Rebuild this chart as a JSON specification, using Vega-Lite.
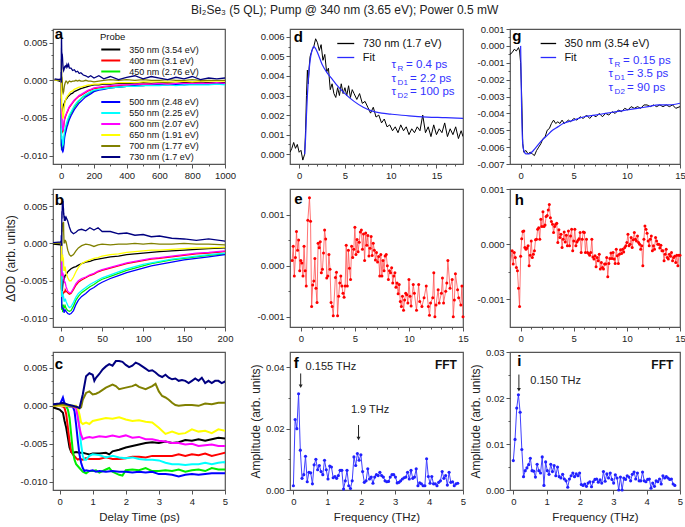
{
"$schema":"https://vega.github.io/schema/vega-lite/v6.json",
"padding":{"left":3,"right":4,"top":4,"bottom":4},
"background":"white",
"title":{"text":"Bi₂Se₃ (5 QL); Pump @ 340 nm (3.65 eV); Power 0.5 mW","fontSize":12,"fontWeight":"normal","color":"#222","anchor":"middle","frame":"bounds","offset":6},
"config":{
 "font":"Liberation Sans",
 "locale":{"number":{"decimal":".","thousands":",","grouping":[3],"currency":["$",""],"minus":"-"}},
 "view":{"stroke":"#555","strokeWidth":1.2},
 "axis":{"grid":false,"domain":false,"tickColor":"#555","tickSize":4,"tickWidth":1,"labelFontSize":9.5,"labelColor":"#222","labelPadding":2,"labelFlush":false,"labelOverlap":false,"titleFontSize":11.5,"titleFontWeight":"normal","titleColor":"#222"},
 "axisY":{"titlePadding":3},
 "axisX":{"titlePadding":6},
 "legend":{"symbolType":"M-2,0H2","labelColor":"#111","titleColor":"#111","titleFontWeight":"normal","padding":0}
},
"datasets":{
"kin":[
{"t":-40,"s":"350","v":0.0001},{"t":-10,"s":"350","v":-0.0001},{"t":-0.2,"s":"350","v":-0.0002},{"t":0,"s":"350","v":-0.0005},{"t":0.1,"s":"350","v":-0.0009},{"t":0.15,"s":"350","v":-0.002},{"t":0.2,"s":"350","v":-0.0029},{"t":0.25,"s":"350","v":-0.0042},{"t":0.3,"s":"350","v":-0.0055},{"t":0.35,"s":"350","v":-0.0061},{"t":0.4,"s":"350","v":-0.0062},{"t":0.5,"s":"350","v":-0.0061},{"t":0.6,"s":"350","v":-0.0062},{"t":0.7,"s":"350","v":-0.0062},{"t":0.8,"s":"350","v":-0.0063},{"t":0.9,"s":"350","v":-0.0064},{"t":1,"s":"350","v":-0.0063},{"t":1.2,"s":"350","v":-0.0063},{"t":1.4,"s":"350","v":-0.0062},{"t":1.5,"s":"350","v":-0.0064},{"t":1.6,"s":"350","v":-0.006},{"t":1.8,"s":"350","v":-0.0058},{"t":2,"s":"350","v":-0.0055},{"t":2.2,"s":"350","v":-0.0053},{"t":2.4,"s":"350","v":-0.0051},{"t":2.6,"s":"350","v":-0.0049},{"t":2.8,"s":"350","v":-0.0048},{"t":3,"s":"350","v":-0.0049},{"t":3.2,"s":"350","v":-0.0047},{"t":3.4,"s":"350","v":-0.0049},{"t":3.6,"s":"350","v":-0.0048},{"t":3.8,"s":"350","v":-0.0045},{"t":4,"s":"350","v":-0.0046},{"t":4.2,"s":"350","v":-0.0044},{"t":4.4,"s":"350","v":-0.0046},{"t":4.6,"s":"350","v":-0.0044},{"t":4.8,"s":"350","v":-0.0042},{"t":5,"s":"350","v":-0.0043},
{"t":6,"s":"350","v":-0.0042},{"t":8,"s":"350","v":-0.0038},{"t":10,"s":"350","v":-0.0036},{"t":12,"s":"350","v":-0.0034},{"t":15,"s":"350","v":-0.0032},{"t":18,"s":"350","v":-0.0031},{"t":21,"s":"350","v":-0.0029},{"t":25,"s":"350","v":-0.0027},{"t":30,"s":"350","v":-0.0025},{"t":35,"s":"350","v":-0.0024},{"t":40,"s":"350","v":-0.0022},{"t":45,"s":"350","v":-0.0021},{"t":50,"s":"350","v":-0.002},{"t":60,"s":"350","v":-0.0018},{"t":70,"s":"350","v":-0.0017},{"t":80,"s":"350","v":-0.0015},{"t":90,"s":"350","v":-0.0014},{"t":100,"s":"350","v":-0.0013},{"t":110,"s":"350","v":-0.0012},{"t":120,"s":"350","v":-0.0011},{"t":135,"s":"350","v":-0.001},{"t":150,"s":"350","v":-0.0009},{"t":165,"s":"350","v":-0.0008},{"t":180,"s":"350","v":-0.0007},{"t":200,"s":"350","v":-0.0006},{"t":230,"s":"350","v":-0.0006},{"t":260,"s":"350","v":-0.0005},{"t":300,"s":"350","v":-0.0005},{"t":350,"s":"350","v":-0.0004},{"t":400,"s":"350","v":-0.0004},{"t":450,"s":"350","v":-0.0004},{"t":500,"s":"350","v":-0.0003},{"t":550,"s":"350","v":-0.0004},{"t":600,"s":"350","v":-0.0003},{"t":650,"s":"350","v":-0.0003},{"t":700,"s":"350","v":-0.0004},{"t":750,"s":"350","v":-0.0003},{"t":800,"s":"350","v":-0.0003},{"t":850,"s":"350","v":-0.0002},{"t":900,"s":"350","v":-0.0003},{"t":950,"s":"350","v":-0.0003},{"t":1000,"s":"350","v":-0.0003},
{"t":-40,"s":"400","v":0},{"t":-10,"s":"400","v":0.0001},{"t":-0.2,"s":"400","v":0},{"t":0,"s":"400","v":0},{"t":0.1,"s":"400","v":-0.0001},{"t":0.15,"s":"400","v":-0.0003},{"t":0.2,"s":"400","v":-0.0011},{"t":0.25,"s":"400","v":-0.0029},{"t":0.3,"s":"400","v":-0.0047},{"t":0.35,"s":"400","v":-0.006},{"t":0.4,"s":"400","v":-0.0064},{"t":0.5,"s":"400","v":-0.0069},{"t":0.55,"s":"400","v":-0.0071},{"t":0.6,"s":"400","v":-0.007},{"t":0.7,"s":"400","v":-0.0071},{"t":0.8,"s":"400","v":-0.0069},{"t":0.9,"s":"400","v":-0.007},{"t":1,"s":"400","v":-0.007},{"t":1.2,"s":"400","v":-0.007},{"t":1.4,"s":"400","v":-0.0068},{"t":1.6,"s":"400","v":-0.007},{"t":1.8,"s":"400","v":-0.007},{"t":2,"s":"400","v":-0.0069},{"t":2.2,"s":"400","v":-0.0067},{"t":2.4,"s":"400","v":-0.0067},{"t":2.6,"s":"400","v":-0.0068},{"t":2.8,"s":"400","v":-0.0066},{"t":3,"s":"400","v":-0.0066},{"t":3.2,"s":"400","v":-0.0066},{"t":3.4,"s":"400","v":-0.0066},{"t":3.6,"s":"400","v":-0.0064},{"t":3.8,"s":"400","v":-0.0066},{"t":4,"s":"400","v":-0.0064},{"t":4.2,"s":"400","v":-0.0065},{"t":4.4,"s":"400","v":-0.0063},{"t":4.6,"s":"400","v":-0.0066},{"t":4.8,"s":"400","v":-0.0064},{"t":5,"s":"400","v":-0.0062},
{"t":6,"s":"400","v":-0.0064},{"t":8,"s":"400","v":-0.0066},{"t":10,"s":"400","v":-0.0068},{"t":12,"s":"400","v":-0.0067},{"t":15,"s":"400","v":-0.0062},{"t":18,"s":"400","v":-0.0056},{"t":21,"s":"400","v":-0.0052},{"t":25,"s":"400","v":-0.0049},{"t":30,"s":"400","v":-0.0046},{"t":35,"s":"400","v":-0.0043},{"t":40,"s":"400","v":-0.0041},{"t":45,"s":"400","v":-0.0038},{"t":50,"s":"400","v":-0.0036},{"t":60,"s":"400","v":-0.0033},{"t":70,"s":"400","v":-0.003},{"t":80,"s":"400","v":-0.0027},{"t":90,"s":"400","v":-0.0025},{"t":100,"s":"400","v":-0.0023},{"t":110,"s":"400","v":-0.0021},{"t":120,"s":"400","v":-0.002},{"t":135,"s":"400","v":-0.0018},{"t":150,"s":"400","v":-0.0016},{"t":165,"s":"400","v":-0.0014},{"t":180,"s":"400","v":-0.0013},{"t":200,"s":"400","v":-0.0011},{"t":230,"s":"400","v":-0.001},{"t":260,"s":"400","v":-0.0009},{"t":300,"s":"400","v":-0.0008},{"t":350,"s":"400","v":-0.0007},{"t":400,"s":"400","v":-0.0006},{"t":450,"s":"400","v":-0.0006},{"t":500,"s":"400","v":-0.0005},{"t":550,"s":"400","v":-0.0005},{"t":600,"s":"400","v":-0.0005},{"t":650,"s":"400","v":-0.0004},{"t":700,"s":"400","v":-0.0005},{"t":750,"s":"400","v":-0.0004},{"t":800,"s":"400","v":-0.0004},{"t":850,"s":"400","v":-0.0004},{"t":900,"s":"400","v":-0.0004},{"t":950,"s":"400","v":-0.0004},{"t":1000,"s":"400","v":-0.0004},
{"t":-40,"s":"450","v":0},{"t":-10,"s":"450","v":0},{"t":-0.2,"s":"450","v":0},{"t":0.1,"s":"450","v":0},{"t":0.2,"s":"450","v":-0.0001},{"t":0.25,"s":"450","v":-0.0005},{"t":0.3,"s":"450","v":-0.0016},{"t":0.35,"s":"450","v":-0.0038},{"t":0.4,"s":"450","v":-0.006},{"t":0.45,"s":"450","v":-0.0071},{"t":0.5,"s":"450","v":-0.0077},{"t":0.6,"s":"450","v":-0.0082},{"t":0.7,"s":"450","v":-0.0087},{"t":0.8,"s":"450","v":-0.0089},{"t":0.9,"s":"450","v":-0.0086},{"t":1,"s":"450","v":-0.0086},{"t":1.1,"s":"450","v":-0.0085},{"t":1.2,"s":"450","v":-0.0088},{"t":1.4,"s":"450","v":-0.0084},{"t":1.5,"s":"450","v":-0.0082},{"t":1.6,"s":"450","v":-0.0087},{"t":1.8,"s":"450","v":-0.0091},{"t":1.9,"s":"450","v":-0.0092},{"t":2,"s":"450","v":-0.0085},{"t":2.2,"s":"450","v":-0.0084},{"t":2.4,"s":"450","v":-0.0085},{"t":2.6,"s":"450","v":-0.0082},{"t":2.8,"s":"450","v":-0.0086},{"t":3,"s":"450","v":-0.0086},{"t":3.2,"s":"450","v":-0.0085},{"t":3.4,"s":"450","v":-0.0086},{"t":3.6,"s":"450","v":-0.0084},{"t":3.8,"s":"450","v":-0.0087},{"t":4,"s":"450","v":-0.0085},{"t":4.2,"s":"450","v":-0.0084},{"t":4.4,"s":"450","v":-0.0086},{"t":4.6,"s":"450","v":-0.0082},{"t":4.8,"s":"450","v":-0.0084},{"t":5,"s":"450","v":-0.0084},
{"t":6,"s":"450","v":-0.0087},{"t":8,"s":"450","v":-0.009},{"t":10,"s":"450","v":-0.0091},{"t":12,"s":"450","v":-0.009},{"t":15,"s":"450","v":-0.0084},{"t":18,"s":"450","v":-0.0076},{"t":21,"s":"450","v":-0.0071},{"t":25,"s":"450","v":-0.0066},{"t":30,"s":"450","v":-0.0062},{"t":35,"s":"450","v":-0.0058},{"t":40,"s":"450","v":-0.0055},{"t":45,"s":"450","v":-0.0051},{"t":50,"s":"450","v":-0.0048},{"t":60,"s":"450","v":-0.0044},{"t":70,"s":"450","v":-0.004},{"t":80,"s":"450","v":-0.0036},{"t":90,"s":"450","v":-0.0033},{"t":100,"s":"450","v":-0.003},{"t":110,"s":"450","v":-0.0027},{"t":120,"s":"450","v":-0.0025},{"t":135,"s":"450","v":-0.0022},{"t":150,"s":"450","v":-0.002},{"t":165,"s":"450","v":-0.0018},{"t":180,"s":"450","v":-0.0016},{"t":200,"s":"450","v":-0.0014},{"t":230,"s":"450","v":-0.0012},{"t":260,"s":"450","v":-0.0011},{"t":300,"s":"450","v":-0.001},{"t":350,"s":"450","v":-0.0009},{"t":400,"s":"450","v":-0.0008},{"t":450,"s":"450","v":-0.0007},{"t":500,"s":"450","v":-0.0007},{"t":550,"s":"450","v":-0.0006},{"t":600,"s":"450","v":-0.0006},{"t":650,"s":"450","v":-0.0005},{"t":700,"s":"450","v":-0.0006},{"t":750,"s":"450","v":-0.0005},{"t":800,"s":"450","v":-0.0005},{"t":850,"s":"450","v":-0.0005},{"t":900,"s":"450","v":-0.0005},{"t":950,"s":"450","v":-0.0004},{"t":1000,"s":"450","v":-0.0005},
{"t":-40,"s":"500","v":0},{"t":-10,"s":"500","v":0.0001},{"t":-0.2,"s":"500","v":0},{"t":0,"s":"500","v":0.0001},{"t":0.1,"s":"500","v":0.0011},{"t":0.15,"s":"500","v":0.0003},{"t":0.2,"s":"500","v":0},{"t":0.3,"s":"500","v":-0.0001},{"t":0.4,"s":"500","v":-0.0001},{"t":0.45,"s":"500","v":-0.0007},{"t":0.5,"s":"500","v":-0.0025},{"t":0.55,"s":"500","v":-0.0046},{"t":0.6,"s":"500","v":-0.0064},{"t":0.65,"s":"500","v":-0.0075},{"t":0.7,"s":"500","v":-0.0082},{"t":0.75,"s":"500","v":-0.0086},{"t":0.8,"s":"500","v":-0.0085},{"t":0.9,"s":"500","v":-0.0086},{"t":1,"s":"500","v":-0.0085},{"t":1.1,"s":"500","v":-0.0087},{"t":1.2,"s":"500","v":-0.0086},{"t":1.4,"s":"500","v":-0.0087},{"t":1.6,"s":"500","v":-0.0086},{"t":1.8,"s":"500","v":-0.0087},{"t":2,"s":"500","v":-0.0087},{"t":2.2,"s":"500","v":-0.0088},{"t":2.4,"s":"500","v":-0.0087},{"t":2.6,"s":"500","v":-0.0088},{"t":2.8,"s":"500","v":-0.0087},{"t":3,"s":"500","v":-0.009},{"t":3.2,"s":"500","v":-0.009},{"t":3.4,"s":"500","v":-0.0091},{"t":3.6,"s":"500","v":-0.0093},{"t":3.8,"s":"500","v":-0.0091},{"t":4,"s":"500","v":-0.009},{"t":4.2,"s":"500","v":-0.0091},{"t":4.4,"s":"500","v":-0.009},{"t":4.6,"s":"500","v":-0.0089},{"t":4.8,"s":"500","v":-0.0089},{"t":5,"s":"500","v":-0.0089},
{"t":6,"s":"500","v":-0.0091},{"t":8,"s":"500","v":-0.0094},{"t":10,"s":"500","v":-0.0095},{"t":12,"s":"500","v":-0.0094},{"t":15,"s":"500","v":-0.009},{"t":18,"s":"500","v":-0.0082},{"t":21,"s":"500","v":-0.0076},{"t":25,"s":"500","v":-0.0071},{"t":30,"s":"500","v":-0.0067},{"t":35,"s":"500","v":-0.0062},{"t":40,"s":"500","v":-0.0059},{"t":45,"s":"500","v":-0.0055},{"t":50,"s":"500","v":-0.0052},{"t":60,"s":"500","v":-0.0047},{"t":70,"s":"500","v":-0.0043},{"t":80,"s":"500","v":-0.0039},{"t":90,"s":"500","v":-0.0036},{"t":100,"s":"500","v":-0.0033},{"t":110,"s":"500","v":-0.003},{"t":120,"s":"500","v":-0.0028},{"t":135,"s":"500","v":-0.0025},{"t":150,"s":"500","v":-0.0022},{"t":165,"s":"500","v":-0.002},{"t":180,"s":"500","v":-0.0018},{"t":200,"s":"500","v":-0.0015},{"t":230,"s":"500","v":-0.0013},{"t":260,"s":"500","v":-0.0012},{"t":300,"s":"500","v":-0.001},{"t":350,"s":"500","v":-0.0009},{"t":400,"s":"500","v":-0.0008},{"t":450,"s":"500","v":-0.0007},{"t":500,"s":"500","v":-0.0007},{"t":550,"s":"500","v":-0.0006},{"t":600,"s":"500","v":-0.0006},{"t":650,"s":"500","v":-0.0006},{"t":700,"s":"500","v":-0.0005},{"t":750,"s":"500","v":-0.0006},{"t":800,"s":"500","v":-0.0005},{"t":850,"s":"500","v":-0.0005},{"t":900,"s":"500","v":-0.0005},{"t":950,"s":"500","v":-0.0005},{"t":1000,"s":"500","v":-0.0004},
{"t":-40,"s":"550","v":0},{"t":-10,"s":"550","v":0},{"t":-0.2,"s":"550","v":0},{"t":0.4,"s":"550","v":0},{"t":0.5,"s":"550","v":-0.0001},{"t":0.55,"s":"550","v":-0.0007},{"t":0.6,"s":"550","v":-0.0029},{"t":0.65,"s":"550","v":-0.0051},{"t":0.7,"s":"550","v":-0.0066},{"t":0.75,"s":"550","v":-0.0071},{"t":0.8,"s":"550","v":-0.0071},{"t":0.9,"s":"550","v":-0.0066},{"t":1,"s":"550","v":-0.0064},{"t":1.2,"s":"550","v":-0.0065},{"t":1.4,"s":"550","v":-0.0068},{"t":1.6,"s":"550","v":-0.0066},{"t":1.8,"s":"550","v":-0.0068},{"t":2,"s":"550","v":-0.0069},{"t":2.2,"s":"550","v":-0.0068},{"t":2.4,"s":"550","v":-0.007},{"t":2.6,"s":"550","v":-0.0071},{"t":2.8,"s":"550","v":-0.0071},{"t":3,"s":"550","v":-0.0072},{"t":3.2,"s":"550","v":-0.0075},{"t":3.4,"s":"550","v":-0.0077},{"t":3.6,"s":"550","v":-0.0077},{"t":3.8,"s":"550","v":-0.0078},{"t":4,"s":"550","v":-0.0077},{"t":4.2,"s":"550","v":-0.0077},{"t":4.4,"s":"550","v":-0.0075},{"t":4.6,"s":"550","v":-0.0077},{"t":4.8,"s":"550","v":-0.0075},{"t":5,"s":"550","v":-0.0074},
{"t":6,"s":"550","v":-0.0078},{"t":8,"s":"550","v":-0.0083},{"t":10,"s":"550","v":-0.0086},{"t":12,"s":"550","v":-0.0085},{"t":15,"s":"550","v":-0.0079},{"t":18,"s":"550","v":-0.0072},{"t":21,"s":"550","v":-0.0067},{"t":25,"s":"550","v":-0.0063},{"t":30,"s":"550","v":-0.0059},{"t":35,"s":"550","v":-0.0055},{"t":40,"s":"550","v":-0.0052},{"t":45,"s":"550","v":-0.0049},{"t":50,"s":"550","v":-0.0046},{"t":60,"s":"550","v":-0.0042},{"t":70,"s":"550","v":-0.0038},{"t":80,"s":"550","v":-0.0034},{"t":90,"s":"550","v":-0.0031},{"t":100,"s":"550","v":-0.0028},{"t":110,"s":"550","v":-0.0026},{"t":120,"s":"550","v":-0.0024},{"t":135,"s":"550","v":-0.0021},{"t":150,"s":"550","v":-0.0019},{"t":165,"s":"550","v":-0.0017},{"t":180,"s":"550","v":-0.0015},{"t":200,"s":"550","v":-0.0013},{"t":230,"s":"550","v":-0.0012},{"t":260,"s":"550","v":-0.0011},{"t":300,"s":"550","v":-0.001},{"t":350,"s":"550","v":-0.0009},{"t":400,"s":"550","v":-0.0008},{"t":450,"s":"550","v":-0.0008},{"t":500,"s":"550","v":-0.0007},{"t":550,"s":"550","v":-0.0007},{"t":600,"s":"550","v":-0.0007},{"t":650,"s":"550","v":-0.0006},{"t":700,"s":"550","v":-0.0007},{"t":750,"s":"550","v":-0.0006},{"t":800,"s":"550","v":-0.0006},{"t":850,"s":"550","v":-0.0006},{"t":900,"s":"550","v":-0.0006},{"t":950,"s":"550","v":-0.0005},{"t":1000,"s":"550","v":-0.0006},
{"t":-40,"s":"600","v":0},{"t":-10,"s":"600","v":0},{"t":-0.2,"s":"600","v":0},{"t":0.3,"s":"600","v":0},{"t":0.4,"s":"600","v":-0.0001},{"t":0.5,"s":"600","v":-0.0003},{"t":0.55,"s":"600","v":-0.0016},{"t":0.6,"s":"600","v":-0.0029},{"t":0.65,"s":"600","v":-0.0038},{"t":0.7,"s":"600","v":-0.0044},{"t":0.8,"s":"600","v":-0.0042},{"t":0.9,"s":"600","v":-0.0041},{"t":1,"s":"600","v":-0.0042},{"t":1.2,"s":"600","v":-0.004},{"t":1.4,"s":"600","v":-0.0041},{"t":1.6,"s":"600","v":-0.0039},{"t":1.8,"s":"600","v":-0.0041},{"t":2,"s":"600","v":-0.0039},{"t":2.2,"s":"600","v":-0.0042},{"t":2.4,"s":"600","v":-0.0041},{"t":2.6,"s":"600","v":-0.0044},{"t":2.8,"s":"600","v":-0.0044},{"t":3,"s":"600","v":-0.0046},{"t":3.2,"s":"600","v":-0.0047},{"t":3.4,"s":"600","v":-0.0049},{"t":3.6,"s":"600","v":-0.0049},{"t":3.8,"s":"600","v":-0.0051},{"t":4,"s":"600","v":-0.005},{"t":4.2,"s":"600","v":-0.0053},{"t":4.4,"s":"600","v":-0.0052},{"t":4.6,"s":"600","v":-0.0051},{"t":4.8,"s":"600","v":-0.0053},{"t":5,"s":"600","v":-0.0053},
{"t":6,"s":"600","v":-0.0058},{"t":8,"s":"600","v":-0.0064},{"t":10,"s":"600","v":-0.0066},{"t":12,"s":"600","v":-0.0066},{"t":15,"s":"600","v":-0.006},{"t":18,"s":"600","v":-0.0054},{"t":21,"s":"600","v":-0.005},{"t":25,"s":"600","v":-0.0047},{"t":30,"s":"600","v":-0.0045},{"t":35,"s":"600","v":-0.0042},{"t":40,"s":"600","v":-0.004},{"t":45,"s":"600","v":-0.0037},{"t":50,"s":"600","v":-0.0035},{"t":60,"s":"600","v":-0.0032},{"t":70,"s":"600","v":-0.0029},{"t":80,"s":"600","v":-0.0026},{"t":90,"s":"600","v":-0.0024},{"t":100,"s":"600","v":-0.0022},{"t":110,"s":"600","v":-0.002},{"t":120,"s":"600","v":-0.0019},{"t":135,"s":"600","v":-0.0017},{"t":150,"s":"600","v":-0.0015},{"t":165,"s":"600","v":-0.0013},{"t":180,"s":"600","v":-0.0012},{"t":200,"s":"600","v":-0.001},{"t":230,"s":"600","v":-0.0009},{"t":260,"s":"600","v":-0.0008},{"t":300,"s":"600","v":-0.0007},{"t":350,"s":"600","v":-0.0006},{"t":400,"s":"600","v":-0.0006},{"t":450,"s":"600","v":-0.0005},{"t":500,"s":"600","v":-0.0005},{"t":550,"s":"600","v":-0.0005},{"t":600,"s":"600","v":-0.0004},{"t":650,"s":"600","v":-0.0005},{"t":700,"s":"600","v":-0.0004},{"t":750,"s":"600","v":-0.0004},{"t":800,"s":"600","v":-0.0004},{"t":850,"s":"600","v":-0.0004},{"t":900,"s":"600","v":-0.0004},{"t":950,"s":"600","v":-0.0003},{"t":1000,"s":"600","v":-0.0004},
{"t":-40,"s":"650","v":0},{"t":-10,"s":"650","v":0},{"t":-0.2,"s":"650","v":0},{"t":0.5,"s":"650","v":0},{"t":0.55,"s":"650","v":-0.0003},{"t":0.6,"s":"650","v":-0.0011},{"t":0.65,"s":"650","v":-0.0022},{"t":0.7,"s":"650","v":-0.0024},{"t":0.8,"s":"650","v":-0.0022},{"t":0.9,"s":"650","v":-0.0024},{"t":1,"s":"650","v":-0.002},{"t":1.2,"s":"650","v":-0.0018},{"t":1.4,"s":"650","v":-0.0016},{"t":1.6,"s":"650","v":-0.0017},{"t":1.8,"s":"650","v":-0.0015},{"t":2,"s":"650","v":-0.0018},{"t":2.2,"s":"650","v":-0.002},{"t":2.4,"s":"650","v":-0.0019},{"t":2.6,"s":"650","v":-0.0021},{"t":2.8,"s":"650","v":-0.0022},{"t":3,"s":"650","v":-0.0029},{"t":3.2,"s":"650","v":-0.0037},{"t":3.4,"s":"650","v":-0.0034},{"t":3.6,"s":"650","v":-0.0037},{"t":3.8,"s":"650","v":-0.0036},{"t":4,"s":"650","v":-0.0031},{"t":4.2,"s":"650","v":-0.0034},{"t":4.4,"s":"650","v":-0.0033},{"t":4.6,"s":"650","v":-0.0036},{"t":4.8,"s":"650","v":-0.0031},{"t":5,"s":"650","v":-0.0033},
{"t":6,"s":"650","v":-0.004},{"t":8,"s":"650","v":-0.0046},{"t":10,"s":"650","v":-0.005},{"t":12,"s":"650","v":-0.005},{"t":15,"s":"650","v":-0.0045},{"t":18,"s":"650","v":-0.0038},{"t":21,"s":"650","v":-0.0032},{"t":25,"s":"650","v":-0.0027},{"t":30,"s":"650","v":-0.0024},{"t":35,"s":"650","v":-0.0022},{"t":40,"s":"650","v":-0.002},{"t":45,"s":"650","v":-0.0019},{"t":50,"s":"650","v":-0.0017},{"t":60,"s":"650","v":-0.0015},{"t":70,"s":"650","v":-0.0014},{"t":80,"s":"650","v":-0.0012},{"t":90,"s":"650","v":-0.0011},{"t":100,"s":"650","v":-0.001},{"t":110,"s":"650","v":-0.0009},{"t":120,"s":"650","v":-0.0009},{"t":135,"s":"650","v":-0.0008},{"t":150,"s":"650","v":-0.0007},{"t":165,"s":"650","v":-0.0006},{"t":180,"s":"650","v":-0.0006},{"t":200,"s":"650","v":-0.0005},{"t":230,"s":"650","v":-0.0005},{"t":260,"s":"650","v":-0.0004},{"t":300,"s":"650","v":-0.0004},{"t":350,"s":"650","v":-0.0003},{"t":400,"s":"650","v":-0.0003},{"t":450,"s":"650","v":-0.0003},{"t":500,"s":"650","v":-0.0002},{"t":550,"s":"650","v":-0.0002},{"t":600,"s":"650","v":-0.0002},{"t":650,"s":"650","v":-0.0002},{"t":700,"s":"650","v":-0.0002},{"t":750,"s":"650","v":-0.0001},{"t":800,"s":"650","v":-0.0002},{"t":850,"s":"650","v":-0.0001},{"t":900,"s":"650","v":-0.0001},{"t":950,"s":"650","v":-0.0001},{"t":1000,"s":"650","v":-0.0001},
{"t":-40,"s":"700","v":0.0001},{"t":-10,"s":"700","v":0},{"t":-0.2,"s":"700","v":0},{"t":0,"s":"700","v":0.0002},{"t":0.2,"s":"700","v":0.0001},{"t":0.4,"s":"700","v":-0.0001},{"t":0.55,"s":"700","v":-0.0002},{"t":0.6,"s":"700","v":-0.0003},{"t":0.65,"s":"700","v":-0.0002},{"t":0.7,"s":"700","v":0.0008},{"t":0.8,"s":"700","v":0.0017},{"t":0.9,"s":"700","v":0.0019},{"t":1,"s":"700","v":0.0015},{"t":1.1,"s":"700","v":0.0016},{"t":1.2,"s":"700","v":0.0018},{"t":1.4,"s":"700","v":0.0024},{"t":1.6,"s":"700","v":0.0028},{"t":1.7,"s":"700","v":0.0026},{"t":1.8,"s":"700","v":0.0022},{"t":2,"s":"700","v":0.0024},{"t":2.2,"s":"700","v":0.0026},{"t":2.3,"s":"700","v":0.0028},{"t":2.4,"s":"700","v":0.0025},{"t":2.6,"s":"700","v":0.0022},{"t":2.8,"s":"700","v":0.0026},{"t":2.9,"s":"700","v":0.0029},{"t":3,"s":"700","v":0.0019},{"t":3.1,"s":"700","v":0.0013},{"t":3.2,"s":"700","v":0.0011},{"t":3.3,"s":"700","v":0.0008},{"t":3.4,"s":"700","v":0.0004},{"t":3.5,"s":"700","v":0.0001},{"t":3.6,"s":"700","v":0},{"t":3.8,"s":"700","v":0.0001},{"t":4,"s":"700","v":0.0001},{"t":4.2,"s":"700","v":0},{"t":4.4,"s":"700","v":0.0003},{"t":4.6,"s":"700","v":0.0002},{"t":4.8,"s":"700","v":0.0004},{"t":5,"s":"700","v":0.0004},
{"t":6,"s":"700","v":0.0002},{"t":8,"s":"700","v":-0.0009},{"t":10,"s":"700","v":-0.0015},{"t":12,"s":"700","v":-0.0017},{"t":15,"s":"700","v":-0.0015},{"t":18,"s":"700","v":-0.001},{"t":21,"s":"700","v":-0.0006},{"t":25,"s":"700","v":-0.0003},{"t":30,"s":"700","v":-0.0001},{"t":35,"s":"700","v":-0.0002},{"t":40,"s":"700","v":-0.0004},{"t":45,"s":"700","v":-0.0002},{"t":50,"s":"700","v":-0.0001},{"t":60,"s":"700","v":-0.0002},{"t":70,"s":"700","v":-0.0001},{"t":80,"s":"700","v":-0.0001},{"t":90,"s":"700","v":0},{"t":100,"s":"700","v":-0.0001},{"t":110,"s":"700","v":0},{"t":120,"s":"700","v":-0.0001},{"t":135,"s":"700","v":-0.0001},{"t":150,"s":"700","v":0},{"t":165,"s":"700","v":-0.0001},{"t":180,"s":"700","v":-0.0001},{"t":200,"s":"700","v":-0.0002},{"t":230,"s":"700","v":-0.0001},{"t":260,"s":"700","v":0},{"t":300,"s":"700","v":0.0001},{"t":350,"s":"700","v":0},{"t":400,"s":"700","v":0.0001},{"t":450,"s":"700","v":0},{"t":500,"s":"700","v":0.0001},{"t":550,"s":"700","v":0},{"t":600,"s":"700","v":0},{"t":650,"s":"700","v":0.0001},{"t":700,"s":"700","v":0},{"t":750,"s":"700","v":0},{"t":800,"s":"700","v":0.0001},{"t":850,"s":"700","v":0},{"t":900,"s":"700","v":0},{"t":950,"s":"700","v":0},{"t":1000,"s":"700","v":0},
{"t":-40,"s":"730","v":0.0002},{"t":-10,"s":"730","v":0.0001},{"t":-0.2,"s":"730","v":0.0002},{"t":0,"s":"730","v":0.0003},{"t":0.1,"s":"730","v":0.0004},{"t":0.3,"s":"730","v":0.0001},{"t":0.5,"s":"730","v":-0.0001},{"t":0.6,"s":"730","v":-0.0003},{"t":0.7,"s":"730","v":0.0015},{"t":0.8,"s":"730","v":0.0039},{"t":0.9,"s":"730","v":0.0043},{"t":1,"s":"730","v":0.0041},{"t":1.05,"s":"730","v":0.0033},{"t":1.1,"s":"730","v":0.0037},{"t":1.2,"s":"730","v":0.0042},{"t":1.3,"s":"730","v":0.0048},{"t":1.4,"s":"730","v":0.0052},{"t":1.5,"s":"730","v":0.0055},{"t":1.6,"s":"730","v":0.0053},{"t":1.7,"s":"730","v":0.0059},{"t":1.8,"s":"730","v":0.0059},{"t":1.9,"s":"730","v":0.0058},{"t":2,"s":"730","v":0.0054},{"t":2.1,"s":"730","v":0.0051},{"t":2.2,"s":"730","v":0.0053},{"t":2.3,"s":"730","v":0.0057},{"t":2.4,"s":"730","v":0.0055},{"t":2.5,"s":"730","v":0.0052},{"t":2.6,"s":"730","v":0.0049},{"t":2.7,"s":"730","v":0.0046},{"t":2.8,"s":"730","v":0.0047},{"t":2.9,"s":"730","v":0.0044},{"t":3,"s":"730","v":0.004},{"t":3.1,"s":"730","v":0.0038},{"t":3.2,"s":"730","v":0.0041},{"t":3.3,"s":"730","v":0.0037},{"t":3.4,"s":"730","v":0.0035},{"t":3.5,"s":"730","v":0.0036},{"t":3.6,"s":"730","v":0.0033},{"t":3.7,"s":"730","v":0.0034},{"t":3.8,"s":"730","v":0.0033},{"t":3.9,"s":"730","v":0.003},{"t":4,"s":"730","v":0.0033},{"t":4.1,"s":"730","v":0.0036},{"t":4.2,"s":"730","v":0.0033},{"t":4.3,"s":"730","v":0.0037},{"t":4.4,"s":"730","v":0.003},{"t":4.5,"s":"730","v":0.0033},{"t":4.6,"s":"730","v":0.003},{"t":4.7,"s":"730","v":0.0033},{"t":4.8,"s":"730","v":0.0033},{"t":4.9,"s":"730","v":0.003},{"t":5,"s":"730","v":0.0032},
{"t":6,"s":"730","v":0.0035},{"t":8,"s":"730","v":0.003},{"t":10,"s":"730","v":0.0022},{"t":12,"s":"730","v":0.0016},{"t":15,"s":"730","v":0.0013},{"t":18,"s":"730","v":0.0015},{"t":21,"s":"730","v":0.0018},{"t":25,"s":"730","v":0.0019},{"t":30,"s":"730","v":0.0017},{"t":35,"s":"730","v":0.0021},{"t":40,"s":"730","v":0.0018},{"t":45,"s":"730","v":0.0021},{"t":50,"s":"730","v":0.0016},{"t":60,"s":"730","v":0.0016},{"t":70,"s":"730","v":0.0013},{"t":80,"s":"730","v":0.0014},{"t":90,"s":"730","v":0.0011},{"t":100,"s":"730","v":0.0012},{"t":110,"s":"730","v":0.0009},{"t":120,"s":"730","v":0.001},{"t":135,"s":"730","v":0.0007},{"t":150,"s":"730","v":0.0006},{"t":165,"s":"730","v":0.0004},{"t":180,"s":"730","v":0.0006},{"t":200,"s":"730","v":0.0003},{"t":230,"s":"730","v":0.0006},{"t":260,"s":"730","v":0.0002},{"t":300,"s":"730","v":0.0005},{"t":350,"s":"730","v":0.0001},{"t":400,"s":"730","v":0.0004},{"t":450,"s":"730","v":0.0006},{"t":500,"s":"730","v":0.0002},{"t":550,"s":"730","v":0.0005},{"t":600,"s":"730","v":0.0003},{"t":650,"s":"730","v":0.0001},{"t":700,"s":"730","v":0.0004},{"t":750,"s":"730","v":0.0002},{"t":800,"s":"730","v":0.0005},{"t":850,"s":"730","v":0.0001},{"t":900,"s":"730","v":0.0003},{"t":950,"s":"730","v":0.0002},{"t":1000,"s":"730","v":0.0003}
],
"d730":[
{"t":-1,"v":0.0001},{"t":-0.8,"v":0.0003},{"t":-0.6,"v":0.0006},{"t":-0.4,"v":0.0003},{"t":-0.2,"v":0.0005},{"t":0,"v":0.0001},{"t":0.2,"v":0.0002},{"t":0.4,"v":-0.0003},{"t":0.6,"v":0},{"t":0.7,"v":0.0012},{"t":0.8,"v":0.003},{"t":0.9,"v":0.0043},{"t":1,"v":0.0036},{"t":1.1,"v":0.0045},{"t":1.2,"v":0.005},{"t":1.4,"v":0.0053},{"t":1.6,"v":0.0055},{"t":1.8,"v":0.0059},{"t":2,"v":0.0057},{"t":2.2,"v":0.0053},{"t":2.4,"v":0.0056},{"t":2.6,"v":0.0048},{"t":2.8,"v":0.0051},{"t":3,"v":0.0042},{"t":3.2,"v":0.0044},{"t":3.4,"v":0.0033},{"t":3.6,"v":0.0036},{"t":3.8,"v":0.0031},{"t":4,"v":0.0029},{"t":4.2,"v":0.0034},{"t":4.4,"v":0.003},{"t":4.6,"v":0.0036},{"t":4.8,"v":0.0031},{"t":5,"v":0.0034},{"t":5.2,"v":0.003},{"t":5.4,"v":0.0035},{"t":5.6,"v":0.0029},{"t":5.8,"v":0.0033},{"t":6,"v":0.0031},{"t":6.3,"v":0.0028},{"t":6.6,"v":0.0031},{"t":6.9,"v":0.0026},{"t":7.2,"v":0.0027},{"t":7.5,"v":0.0024},{"t":7.8,"v":0.0021},{"t":8.1,"v":0.0024},{"t":8.4,"v":0.0019},{"t":8.7,"v":0.002},{"t":9,"v":0.0016},{"t":9.3,"v":0.0018},{"t":9.6,"v":0.0014},{"t":9.9,"v":0.0015},{"t":10.2,"v":0.0012},{"t":10.5,"v":0.0014},{"t":10.8,"v":0.0011},{"t":11.1,"v":0.0015},{"t":11.4,"v":0.0012},{"t":11.7,"v":0.0014},{"t":12,"v":0.001},{"t":12.3,"v":0.0013},{"t":12.6,"v":0.0011},{"t":12.9,"v":0.0014},{"t":13.2,"v":0.0012},{"t":13.5,"v":0.002},{"t":13.8,"v":0.0011},{"t":14.1,"v":0.0014},{"t":14.4,"v":0.0009},{"t":14.7,"v":0.0015},{"t":15,"v":0.001},{"t":15.3,"v":0.0013},{"t":15.6,"v":0.0011},{"t":15.9,"v":0.0016},{"t":16.2,"v":0.0009},{"t":16.5,"v":0.0013},{"t":16.8,"v":0.001},{"t":17.1,"v":0.0014},{"t":17.4,"v":0.0008},{"t":17.7,"v":0.0012},{"t":17.9,"v":0.0009}
],
"dfit":[
{"t":0.6,"v":0},{"t":0.7,"v":0.0008},{"t":0.8,"v":0.002},{"t":0.9,"v":0.003},{"t":1,"v":0.0038},{"t":1.2,"v":0.0048},{"t":1.4,"v":0.0053},{"t":1.6,"v":0.0055},{"t":1.8,"v":0.0054},{"t":2,"v":0.0052},{"t":2.5,"v":0.0046},{"t":3,"v":0.0042},{"t":3.5,"v":0.0039},{"t":4,"v":0.0036},{"t":5,"v":0.0031},{"t":6,"v":0.0027},{"t":7,"v":0.0024},{"t":8,"v":0.0022},{"t":9,"v":0.0021},{"t":10,"v":0.00205},{"t":12,"v":0.00196},{"t":14,"v":0.0019},{"t":16,"v":0.00187},{"t":17.9,"v":0.00183}
],
"g350":[
{"t":-1,"v":-0.0005},{"t":-0.8,"v":-0.0004},{"t":-0.6,"v":-0.0002},{"t":-0.4,"v":-0.0003},{"t":-0.2,"v":-0.0001},{"t":-0.1,"v":-0.0003},{"t":0,"v":-0.001},{"t":0.1,"v":-0.003},{"t":0.2,"v":-0.0058},{"t":0.3,"v":-0.0063},{"t":0.5,"v":-0.0062},{"t":0.7,"v":-0.0064},{"t":0.9,"v":-0.0063},{"t":1.1,"v":-0.0064},{"t":1.3,"v":-0.0065},{"t":1.5,"v":-0.0062},{"t":1.7,"v":-0.006},{"t":1.9,"v":-0.0058},{"t":2.1,"v":-0.0055},{"t":2.3,"v":-0.0054},{"t":2.5,"v":-0.005},{"t":2.7,"v":-0.0049},{"t":2.9,"v":-0.0046},{"t":3.1,"v":-0.0044},{"t":3.3,"v":-0.0046},{"t":3.5,"v":-0.0045},{"t":3.7,"v":-0.0046},{"t":3.9,"v":-0.0044},{"t":4.1,"v":-0.0046},{"t":4.3,"v":-0.0045},{"t":4.5,"v":-0.0044},{"t":4.7,"v":-0.0045},{"t":5,"v":-0.0043},{"t":5.3,"v":-0.0044},{"t":5.6,"v":-0.0042},{"t":5.9,"v":-0.0043},{"t":6.2,"v":-0.0041},{"t":6.5,"v":-0.0043},{"t":6.8,"v":-0.0041},{"t":7.1,"v":-0.0042},{"t":7.4,"v":-0.004},{"t":7.7,"v":-0.0042},{"t":8,"v":-0.004},{"t":8.3,"v":-0.0041},{"t":8.6,"v":-0.0039},{"t":8.9,"v":-0.004},{"t":9.2,"v":-0.0038},{"t":9.5,"v":-0.0039},{"t":9.8,"v":-0.0037},{"t":10.1,"v":-0.0038},{"t":10.4,"v":-0.0036},{"t":10.7,"v":-0.0037},{"t":11,"v":-0.0036},{"t":11.3,"v":-0.0037},{"t":11.6,"v":-0.0035},{"t":11.9,"v":-0.0035},{"t":12.2,"v":-0.0036},{"t":12.5,"v":-0.0035},{"t":12.8,"v":-0.0036},{"t":13.1,"v":-0.0035},{"t":13.4,"v":-0.0036},{"t":13.7,"v":-0.0035},{"t":14,"v":-0.0036},{"t":14.3,"v":-0.0035},{"t":14.6,"v":-0.0037},{"t":15,"v":-0.0036}
],
"gfit":[
{"t":0,"v":0},{"t":0.05,"v":-0.002},{"t":0.1,"v":-0.004},{"t":0.15,"v":-0.0052},{"t":0.2,"v":-0.0058},{"t":0.3,"v":-0.0062},{"t":0.5,"v":-0.0064},{"t":0.8,"v":-0.0064},{"t":1.2,"v":-0.0062},{"t":1.6,"v":-0.0059},{"t":2,"v":-0.0056},{"t":2.5,"v":-0.0053},{"t":3,"v":-0.005},{"t":3.5,"v":-0.0048},{"t":4,"v":-0.0046},{"t":5,"v":-0.0044},{"t":6,"v":-0.0042},{"t":7,"v":-0.0041},{"t":8,"v":-0.004},{"t":9,"v":-0.0039},{"t":10,"v":-0.0038},{"t":11,"v":-0.0037},{"t":12,"v":-0.0036},{"t":13,"v":-0.0035},{"t":14,"v":-0.0035},{"t":15,"v":-0.0034}
],
"eres":[
{"t":-0.8,"r":0.0001},{"t":-0.7,"r":0.00038},{"t":-0.6,"r":-0.0002},{"t":-0.5,"r":0.00016},{"t":-0.4,"r":0.00067},{"t":-0.3,"r":0.0003},{"t":-0.2,"r":0.0005},{"t":-0.1,"r":-0.0001},{"t":0,"r":0.0001},{"t":0.1,"r":0.00005},{"t":0.2,"r":-0.0002},{"t":0.3,"r":0.00038},{"t":0.4,"r":-0.0001},{"t":0.5,"r":-0.0004},{"t":0.65,"r":0.00089},{"t":0.8,"r":0.00133},{"t":0.9,"r":0.00087},{"t":1,"r":-0.0008},{"t":1.1,"r":-0.00038},{"t":1.2,"r":-0.0003},{"t":1.3,"r":0.00014},{"t":1.4,"r":-0.00044},{"t":1.5,"r":-0.00072},{"t":1.6,"r":0.00044},{"t":1.7,"r":0.00035},{"t":1.8,"r":0.00047},{"t":1.9,"r":-0.00014},{"t":2,"r":-0.00007},{"t":2.1,"r":0.00025},{"t":2.2,"r":0.0007},{"t":2.3,"r":0.00052},{"t":2.4,"r":-0.00024},{"t":2.5,"r":-0.0002},{"t":2.6,"r":0.00022},{"t":2.7,"r":-0.00007},{"t":2.8,"r":-0.00072},{"t":2.9,"r":-0.0008},{"t":3,"r":-0.00098},{"t":3.2,"r":-0.00023},{"t":3.3,"r":-0.00013},{"t":3.4,"r":-0.00098},{"t":3.5,"r":-0.0006},{"t":3.6,"r":-0.00034},{"t":3.7,"r":-0.0002},{"t":3.8,"r":-0.0004},{"t":3.9,"r":-0.00054},{"t":4,"r":-0.00062},{"t":4.1,"r":-0.0004},{"t":4.2,"r":0.0004},{"t":4.3,"r":-0.0004},{"t":4.4,"r":0.0003},{"t":4.5,"r":-0.00005},{"t":4.6,"r":-0.00027},{"t":4.7,"r":0.00038},{"t":4.8,"r":0.00016},{"t":4.9,"r":0.00032},{"t":5,"r":0.00075},{"t":5.1,"r":0.00022},{"t":5.2,"r":0.00051},{"t":5.3,"r":0.00027},{"t":5.4,"r":0.00046},{"t":5.5,"r":0.00066},{"t":5.6,"r":0.0007},{"t":5.7,"r":0.00032},{"t":5.8,"r":0.00062},{"t":5.9,"r":0.0001},{"t":6,"r":0.00064},{"t":6.1,"r":0.0004},{"t":6.2,"r":0.00059},{"t":6.3,"r":0.00019},{"t":6.4,"r":0.00034},{"t":6.5,"r":0.00057},{"t":6.6,"r":0.0002},{"t":6.7,"r":0.00044},{"t":6.8,"r":0.0003},{"t":6.9,"r":0.00011},{"t":7,"r":0.00026},{"t":7.1,"r":0.00007},{"t":7.2,"r":0.00018},{"t":7.3,"r":-0.0002},{"t":7.4,"r":0.00022},{"t":7.5,"r":-0.0002},{"t":7.6,"r":0.0001},{"t":7.7,"r":-0.0001},{"t":7.8,"r":0.00019},{"t":7.9,"r":0.00022},{"t":8,"r":0},{"t":8.1,"r":-0.00027},{"t":8.2,"r":-0.0001},{"t":8.3,"r":-0.00014},{"t":8.4,"r":-0.00004},{"t":8.5,"r":-0.00034},{"t":8.6,"r":-0.0002},{"t":8.7,"r":-0.00014},{"t":8.8,"r":-0.00042},{"t":8.9,"r":-0.00034},{"t":9,"r":-0.00055},{"t":9.1,"r":-0.00037},{"t":9.2,"r":-0.0007},{"t":9.3,"r":-0.0008},{"t":9.4,"r":-0.0006},{"t":9.5,"r":-0.00087},{"t":9.6,"r":-0.00067},{"t":9.7,"r":-0.00054},{"t":9.8,"r":-0.00057},{"t":9.9,"r":-0.00073},{"t":10,"r":-0.00027},{"t":10.1,"r":-0.0006},{"t":10.2,"r":-0.00079},{"t":10.4,"r":-0.00037},{"t":10.5,"r":-0.00054},{"t":10.7,"r":-0.00087},{"t":10.9,"r":-0.00037},{"t":11,"r":-0.0007},{"t":11.2,"r":-0.0008},{"t":11.4,"r":-0.00063},{"t":11.6,"r":-0.0004},{"t":11.8,"r":-0.0008},{"t":11.9,"r":-0.00097},{"t":12,"r":-0.00073},{"t":12.2,"r":-0.00063},{"t":12.3,"r":-0.00014},{"t":12.4,"r":-0.001},{"t":12.5,"r":-0.00077},{"t":12.7,"r":-0.00047},{"t":12.8,"r":-0.00073},{"t":13,"r":-0.00054},{"t":13.1,"r":-0.00024},{"t":13.2,"r":-0.00073},{"t":13.4,"r":-0.0005},{"t":13.5,"r":-0.00034},{"t":13.6,"r":0.0001},{"t":13.8,"r":-0.00044},{"t":14,"r":-0.00027},{"t":14.1,"r":-0.001},{"t":14.2,"r":-0.00067},{"t":14.3,"r":-0.00016},{"t":14.5,"r":-0.00047},{"t":14.6,"r":-0.00063},{"t":14.8,"r":-0.00077},{"t":14.9,"r":-0.0004},{"t":15,"r":-0.001}
],
"hres":[
{"t":-1,"r":-0.00042},{"t":-0.9,"r":-0.00027},{"t":-0.8,"r":-0.00012},{"t":-0.7,"r":-0.00036},{"t":-0.6,"r":-0.00015},{"t":-0.5,"r":-0.00024},{"t":-0.4,"r":-0.00042},{"t":-0.3,"r":-0.00048},{"t":-0.2,"r":-0.0008},{"t":-0.1,"r":-0.00113},{"t":0,"r":-0.00022},{"t":0.1,"r":0.0001},{"t":0.2,"r":0.00023},{"t":0.3,"r":0.00024},{"t":0.4,"r":-0.00006},{"t":0.5,"r":-0.00009},{"t":0.6,"r":-0.00007},{"t":0.7,"r":-0.00003},{"t":0.8,"r":-0.00039},{"t":0.9,"r":-0.0002},{"t":1,"r":0.00006},{"t":1.1,"r":-0.00024},{"t":1.2,"r":-0.00018},{"t":1.3,"r":-0.00012},{"t":1.4,"r":0.00008},{"t":1.5,"r":0.00009},{"t":1.6,"r":0.00027},{"t":1.7,"r":0.0003},{"t":1.8,"r":0.00009},{"t":1.9,"r":0.00045},{"t":2,"r":0.00032},{"t":2.1,"r":0.00059},{"t":2.2,"r":0.00032},{"t":2.3,"r":0.00035},{"t":2.4,"r":0.0005},{"t":2.5,"r":0.00052},{"t":2.6,"r":0.00062},{"t":2.7,"r":0.00072},{"t":2.8,"r":0.00048},{"t":2.9,"r":0.00041},{"t":3,"r":0.00036},{"t":3.1,"r":0.00021},{"t":3.2,"r":0.00032},{"t":3.3,"r":0.00036},{"t":3.4,"r":0.00038},{"t":3.5,"r":0.00003},{"t":3.6,"r":0.00026},{"t":3.7,"r":0.00012},{"t":3.8,"r":0.00018},{"t":3.9,"r":-0.00006},{"t":4,"r":0.00009},{"t":4.1,"r":0.00022},{"t":4.2,"r":0.00004},{"t":4.3,"r":0.00016},{"t":4.4,"r":-0.00003},{"t":4.5,"r":0.00024},{"t":4.6,"r":-0.00003},{"t":4.7,"r":0.00015},{"t":4.8,"r":0.00027},{"t":4.9,"r":-0.00012},{"t":5,"r":0.00006},{"t":5.1,"r":0.00027},{"t":5.2,"r":-0.00003},{"t":5.3,"r":0.00004},{"t":5.4,"r":0.00007},{"t":5.5,"r":0.0001},{"t":5.6,"r":0.00021},{"t":5.7,"r":-0.00015},{"t":5.8,"r":0.00009},{"t":5.9,"r":0.00022},{"t":6,"r":0.00021},{"t":6.1,"r":-0.00015},{"t":6.2,"r":0.00009},{"t":6.3,"r":-0.00015},{"t":6.4,"r":-0.00017},{"t":6.5,"r":-0.0002},{"t":6.6,"r":-0.00015},{"t":6.7,"r":0.00009},{"t":6.8,"r":-0.00023},{"t":6.9,"r":-0.00027},{"t":7,"r":-0.00021},{"t":7.1,"r":-0.00041},{"t":7.2,"r":-0.00024},{"t":7.3,"r":-0.0003},{"t":7.4,"r":-0.00018},{"t":7.5,"r":-0.00045},{"t":7.6,"r":-0.00033},{"t":7.7,"r":-0.00042},{"t":7.8,"r":-0.00045},{"t":7.9,"r":-0.00036},{"t":8,"r":-0.00036},{"t":8.1,"r":-0.00024},{"t":8.2,"r":-0.00059},{"t":8.3,"r":-0.00035},{"t":8.4,"r":-0.00026},{"t":8.5,"r":-0.00016},{"t":8.6,"r":-0.00026},{"t":8.7,"r":-0.00015},{"t":8.8,"r":-0.00027},{"t":8.9,"r":-0.00035},{"t":9,"r":-0.00009},{"t":9.1,"r":-0.00021},{"t":9.2,"r":-0.00035},{"t":9.3,"r":-0.00018},{"t":9.4,"r":-0.0001},{"t":9.5,"r":-0.00017},{"t":9.6,"r":-0.00009},{"t":9.7,"r":-0.00014},{"t":9.8,"r":-0.00006},{"t":9.9,"r":-0.00003},{"t":10,"r":0.00003},{"t":10.1,"r":0.00018},{"t":10.2,"r":-0.00003},{"t":10.3,"r":0},{"t":10.4,"r":0.00012},{"t":10.5,"r":-0.00006},{"t":10.6,"r":0.00008},{"t":10.7,"r":0.00021},{"t":10.8,"r":0.00009},{"t":10.9,"r":0.00006},{"t":11,"r":0.00015},{"t":11.1,"r":0.00003},{"t":11.2,"r":0},{"t":11.3,"r":-0.00009},{"t":11.4,"r":-0.00003},{"t":11.5,"r":-0.00039},{"t":11.6,"r":0.00009},{"t":11.7,"r":0.00033},{"t":11.8,"r":0.00027},{"t":11.9,"r":0.0002},{"t":12,"r":0.00006},{"t":12.1,"r":-0.00003},{"t":12.2,"r":0.00009},{"t":12.3,"r":0.00015},{"t":12.4,"r":-0.00012},{"t":12.5,"r":-0.00003},{"t":12.6,"r":-0.00009},{"t":12.7,"r":0.00012},{"t":12.8,"r":0.00006},{"t":12.9,"r":0},{"t":13,"r":0},{"t":13.1,"r":-0.00007},{"t":13.2,"r":-0.00002},{"t":13.3,"r":-0.00012},{"t":13.4,"r":-0.00012},{"t":13.5,"r":-0.0003},{"t":13.6,"r":-0.00018},{"t":13.7,"r":-0.00009},{"t":13.8,"r":-0.00024},{"t":13.9,"r":-0.00027},{"t":14,"r":-0.00018},{"t":14.1,"r":-0.00022},{"t":14.2,"r":-0.00015},{"t":14.3,"r":-0.0003},{"t":14.4,"r":-0.00024},{"t":14.5,"r":-0.00022},{"t":14.6,"r":-0.00033},{"t":14.7,"r":-0.0002},{"t":14.8,"r":-0.00039},{"t":14.9,"r":-0.0002},{"t":15,"r":-0.0002}
],
"fft":[
{"f":0,"a":0.0014,"b":0.0064},{"f":0.051,"a":0.023,"b":0.011},{"f":0.102,"a":0.02,"b":0.0178},{"f":0.153,"a":0.0314,"b":0.0207},{"f":0.204,"a":0.013,"b":0.0169},{"f":0.255,"a":0.0038,"b":0.0088},{"f":0.306,"a":0.005,"b":0.0029},{"f":0.357,"a":0.011,"b":0.0042},{"f":0.408,"a":0.0027,"b":0.0048},{"f":0.459,"a":0.0058,"b":0.0055},{"f":0.51,"a":0.0056,"b":0.0069},{"f":0.561,"a":0.002,"b":0.0042},{"f":0.612,"a":0.0082,"b":0.0041},{"f":0.663,"a":0.01,"b":0.0028},{"f":0.714,"a":0.0066,"b":0.0056},{"f":0.765,"a":0.008,"b":0.0042},{"f":0.816,"a":0.006,"b":0.0037},{"f":0.867,"a":0.005,"b":0.0072},{"f":0.918,"a":0.0097,"b":0.001},{"f":0.969,"a":0.0066,"b":0.0061},{"f":1.02,"a":0.0036,"b":0.0042},{"f":1.071,"a":0.0078,"b":0.0034},{"f":1.122,"a":0.0075,"b":0.0056},{"f":1.173,"a":0.004,"b":0.004},{"f":1.224,"a":0.0044,"b":0.0053},{"f":1.275,"a":0.0038,"b":0.0031},{"f":1.326,"a":0.0047,"b":0.005},{"f":1.377,"a":0.0064,"b":0.0029},{"f":1.428,"a":0.0064,"b":0.0026},{"f":1.479,"a":0.0003,"b":0.0034},{"f":1.53,"a":0.003,"b":0.0024},{"f":1.581,"a":0.0064,"b":0.002},{"f":1.632,"a":0.0014,"b":0.0006},{"f":1.683,"a":0.0005,"b":0.0024},{"f":1.734,"a":0.003,"b":0.0031},{"f":1.785,"a":0.0108,"b":0.0037},{"f":1.836,"a":0.008,"b":0.0029},{"f":1.887,"a":0.0119,"b":0.0035},{"f":1.938,"a":0.0097,"b":0.0031},{"f":1.989,"a":0.0115,"b":0.0037},{"f":2.04,"a":0.006,"b":0.0012},{"f":2.091,"a":0.0025,"b":0.001},{"f":2.142,"a":0.003,"b":0.0013},{"f":2.193,"a":0.0069,"b":0.0008},{"f":2.244,"a":0.0036,"b":0.0015},{"f":2.295,"a":0.0042,"b":0.0018},{"f":2.346,"a":0.0022,"b":0.0007},{"f":2.397,"a":0.0042,"b":0.0018},{"f":2.448,"a":0.005,"b":0.0023},{"f":2.499,"a":0.0047,"b":0.0024},{"f":2.55,"a":0.0058,"b":0.0017},{"f":2.601,"a":0.0047,"b":0.0022},{"f":2.652,"a":0.0042,"b":0.0015},{"f":2.703,"a":0.003,"b":0.004},{"f":2.754,"a":0.0027,"b":0.0019},{"f":2.805,"a":0.0028,"b":0.0035},{"f":2.856,"a":0.0042,"b":0.0026},{"f":2.907,"a":0.005,"b":0.0037},{"f":2.958,"a":0.005,"b":0.0023},{"f":3.009,"a":0.0042,"b":0.0015},{"f":3.06,"a":0.0023,"b":0.0033},{"f":3.111,"a":0.0025,"b":0.0026},{"f":3.162,"a":0.003,"b":0},{"f":3.213,"a":0.0036,"b":0.0028},{"f":3.264,"a":0.004,"b":0},{"f":3.315,"a":0.0042,"b":0.0026},{"f":3.366,"a":0.0058,"b":0.0023},{"f":3.417,"a":0.0036,"b":0.0031},{"f":3.468,"a":0.0064,"b":0.0028},{"f":3.519,"a":0.0038,"b":0.002},{"f":3.57,"a":0.0042,"b":0.0034},{"f":3.621,"a":0.0069,"b":0.0039},{"f":3.672,"a":0.0014,"b":0.0024},{"f":3.723,"a":0.0023,"b":0.0037},{"f":3.774,"a":0.002,"b":0.002},{"f":3.825,"a":0.0014,"b":0.002},{"f":3.876,"a":0.0014,"b":0.0039},{"f":3.927,"a":0.0102,"b":0.002},{"f":3.978,"a":0.0044,"b":0.0018},{"f":4.029,"a":0.0022,"b":0.0023},{"f":4.08,"a":0.0044,"b":0.0024},{"f":4.131,"a":0.002,"b":0.0004},{"f":4.182,"a":0.002,"b":0.0015},{"f":4.233,"a":0.0014,"b":0.0008},{"f":4.284,"a":0.0025,"b":0.002},{"f":4.335,"a":0.003,"b":0.0018},{"f":4.386,"a":0.006,"b":0.0024},{"f":4.437,"a":0.0038,"b":0.0013},{"f":4.488,"a":0.0047,"b":0.0031},{"f":4.539,"a":0.0016,"b":0.0026},{"f":4.59,"a":0.0058,"b":0.0029},{"f":4.641,"a":0.0025,"b":0.0026},{"f":4.692,"a":0.0027,"b":0.0023},{"f":4.743,"a":0.0014,"b":0.0024},{"f":4.794,"a":0.002,"b":0.0013},{"f":4.845,"a":0.0022,"b":0.001}
]
},
"bounds":"flush",
"columns":5,
"spacing":{"row":25,"column":0},
"resolve":{"scale":{"color":"independent","stroke":"independent"}},
"concat":[
 {"width":172,"height":135,
  "encoding":{
   "x":{"field":"t","type":"quantitative","scale":{"domain":[-50,1000],"nice":false,"zero":false},"axis":{"values":[0,100,200,300,400,500,600,700,800,900,1000],"format":"d","title":null,"labelExpr":"datum.value % 200 ? '' : datum.label","tickSize":{"condition":{"test":"datum.value % 200","value":2},"value":4}}},
   "y":{"field":"v","type":"quantitative","scale":{"domain":[-0.0111,0.0068],"nice":false,"zero":false},"axis":{"values":[-0.01,-0.008333,-0.006667,-0.005,-0.003333,-0.001667,0,0.001667,0.003333,0.005,0.006667],"format":".3f","title":null,"labelExpr":"abs(datum.value/0.005-round(datum.value/0.005))>0.01 ? '' : datum.label","tickSize":{"condition":{"test":"abs(datum.value/0.005-round(datum.value/0.005))>0.01","value":2},"value":4}}}},
  "layer":[
   {"data":{"values":[{}]},"mark":{"type":"rule","color":"#111","strokeWidth":1},"encoding":{"x":{"datum":-50},"x2":{"datum":1000},"y":{"datum":0}}},
   {"data":{"name":"kin"},"transform":[{"filter":{"field":"s","oneOf":["350","400","450"]}}],"mark":{"type":"line","strokeWidth":1.3,"clip":true},
    "encoding":{"color":{"field":"s","type":"nominal","scale":{"domain":["350","400","450"],"range":["#000000","#ff0000","#00ee00"]},
     "legend":{"title":"Probe","orient":"none","legendX":47,"legendY":3,"titleFontSize":9.5,"labelFontSize":9,"symbolSize":90,"symbolOffset":4.75,"labelOffset":12.5,"symbolStrokeWidth":2,"rowPadding":0,"titlePadding":2,
      "labelExpr":"datum.label == '350' ? '350 nm (3.54 eV)' : datum.label == '400' ? '400 nm (3.1 eV)' : '450 nm (2.76 eV)'"}}}},
   {"data":{"name":"kin"},"transform":[{"filter":{"field":"s","oneOf":["500","550","600","650","700","730"]}}],"mark":{"type":"line","strokeWidth":1.3,"clip":true},
    "encoding":{"stroke":{"field":"s","type":"nominal","scale":{"domain":["500","550","600","650","700","730"],"range":["#0000ff","#00ffff","#ff00ff","#ffff00","#808000","#000080"]},
     "legend":{"title":null,"orient":"none","legendX":47,"legendY":67,"labelFontSize":9,"symbolSize":90,"symbolOffset":4.75,"labelOffset":12.5,"symbolStrokeWidth":2,"rowPadding":0,
      "labelExpr":"datum.label == '500' ? '500 nm (2.48 eV)' : datum.label == '550' ? '550 nm (2.25 eV)' : datum.label == '600' ? '600 nm (2.07 eV)' : datum.label == '650' ? '650 nm (1.91 eV)' : datum.label == '700' ? '700 nm (1.77 eV)' : '730 nm (1.7 eV)'"}}}},
   {"data":{"values":[{"t":-40,"v":0.0061}]},"mark":{"type":"text","text":"a","fontWeight":"bold","fontSize":15,"align":"left","baseline":"middle","color":"#000"}}
  ]},
 {"width":65,"height":135,"view":{"stroke":null},"data":{"values":[{}]},"mark":{"type":"text","text":""}},
 {"width":173,"height":135,
   "encoding":{
    "x":{"field":"t","type":"quantitative","scale":{"domain":[-1,17.9],"nice":false,"zero":false},"axis":{"values":[0,1,2,3,4,5,6,7,8,9,10,11,12,13,14,15,16,17],"title":null,"labelExpr":"datum.value % 5 ? '' : datum.label","tickSize":{"condition":{"test":"datum.value % 5","value":2},"value":4}}},
    "y":{"field":"v","type":"quantitative","scale":{"domain":[-0.0005,0.0064],"nice":false,"zero":false},"axis":{"values":[0,0.0005,0.001,0.0015,0.002,0.0025,0.003,0.0035,0.004,0.0045,0.005,0.0055,0.006],"format":".3f","title":null,"labelExpr":"abs(datum.value/0.001-round(datum.value/0.001))>0.01 ? '' : datum.label","tickSize":{"condition":{"test":"abs(datum.value/0.001-round(datum.value/0.001))>0.01","value":2},"value":4}}}},
   "layer":[
    {"data":{"name":"d730"},"mark":{"type":"line","strokeWidth":1,"clip":true},"encoding":{"color":{"datum":"730 nm (1.7 eV)","scale":{"domain":["730 nm (1.7 eV)","Fit"],"range":["#000000","#2a2aff"]},
      "legend":{"title":null,"orient":"none","legendX":46,"legendY":9,"labelFontSize":11,"symbolSize":72,"symbolOffset":4.25,"labelOffset":11.5,"symbolStrokeWidth":1.3,"rowPadding":2}}}},
    {"data":{"name":"dfit"},"mark":{"type":"line","strokeWidth":1.2,"clip":true,"interpolate":"monotone"},"encoding":{"color":{"datum":"Fit"}}},
    {"data":{"values":[{"t":-0.6,"v":0.006}]},"mark":{"type":"text","text":"d","fontWeight":"bold","fontSize":15,"align":"left","baseline":"middle","color":"#000"}},
    {"data":{"values":[{"t":10.1,"v":0.00454},{"t":10.1,"v":0.00386},{"t":10.1,"v":0.00317}]},"mark":{"type":"text","text":"τ","fontSize":11.5,"align":"left","baseline":"middle","color":"#3333ff"}},
    {"data":{"values":[{"t":10.1,"v":0.00454,"sub":"R"},{"t":10.1,"v":0.00386,"sub":"D1"},{"t":10.1,"v":0.00317,"sub":"D2"}]},"mark":{"type":"text","fontSize":8,"align":"left","baseline":"middle","color":"#3333ff","dx":6,"dy":4},"encoding":{"text":{"field":"sub"}}},
    {"data":{"values":[{"t":10.1,"v":0.00454,"rest":"= 0.4 ps"}]},"mark":{"type":"text","fontSize":11.5,"align":"left","baseline":"middle","color":"#3333ff","dx":14.5},"encoding":{"text":{"field":"rest"}}},
    {"data":{"values":[{"t":10.1,"v":0.00386,"rest":"= 2.2 ps"},{"t":10.1,"v":0.00317,"rest":"= 100 ps"}]},"mark":{"type":"text","fontSize":11.5,"align":"left","baseline":"middle","color":"#3333ff","dx":18.5},"encoding":{"text":{"field":"rest"}}}
   ]},
 {"width":47,"height":135,"view":{"stroke":null},"data":{"values":[{}]},"mark":{"type":"text","text":""}},
 {"width":170,"height":135,
   "encoding":{
    "x":{"field":"t","type":"quantitative","scale":{"domain":[-1,15],"nice":false,"zero":false},"axis":{"values":[0,1,2,3,4,5,6,7,8,9,10,11,12,13,14,15],"title":null,"labelExpr":"datum.value % 5 ? '' : datum.label","tickSize":{"condition":{"test":"datum.value % 5","value":2},"value":4}}},
    "y":{"field":"v","type":"quantitative","scale":{"domain":[-0.007,0.001],"nice":false,"zero":false},"axis":{"values":[-0.007,-0.0065,-0.006,-0.0055,-0.005,-0.0045,-0.004,-0.0035,-0.003,-0.0025,-0.002,-0.0015,-0.001,-0.0005,0,0.0005,0.001],"format":".3f","title":null,"labelExpr":"abs(datum.value/0.001-round(datum.value/0.001))>0.01 ? '' : datum.label","tickSize":{"condition":{"test":"abs(datum.value/0.001-round(datum.value/0.001))>0.01","value":2},"value":4}}}},
   "layer":[
    {"data":{"name":"g350"},"mark":{"type":"line","strokeWidth":1,"clip":true},"encoding":{"color":{"datum":"350 nm (3.54 eV)","scale":{"domain":["350 nm (3.54 eV)","Fit"],"range":["#000000","#2a2aff"]},
      "legend":{"title":null,"orient":"none","legendX":29,"legendY":9,"labelFontSize":11,"symbolSize":60,"symbolOffset":3.9,"labelOffset":10.5,"symbolStrokeWidth":1.3,"rowPadding":2}}}},
    {"data":{"name":"gfit"},"mark":{"type":"line","strokeWidth":1.2,"clip":true,"interpolate":"monotone"},"encoding":{"color":{"datum":"Fit"}}},
    {"data":{"values":[{"t":-0.8,"v":0.0006}]},"mark":{"type":"text","text":"g","fontWeight":"bold","fontSize":15,"align":"left","baseline":"middle","color":"#000"}},
    {"data":{"values":[{"t":8.28,"v":-0.0009},{"t":8.28,"v":-0.00164},{"t":8.28,"v":-0.00248}]},"mark":{"type":"text","text":"τ","fontSize":11.5,"align":"left","baseline":"middle","color":"#3333ff"}},
    {"data":{"values":[{"t":8.28,"v":-0.0009,"sub":"R"},{"t":8.28,"v":-0.00164,"sub":"D1"},{"t":8.28,"v":-0.00248,"sub":"D2"}]},"mark":{"type":"text","fontSize":8,"align":"left","baseline":"middle","color":"#3333ff","dx":6,"dy":4},"encoding":{"text":{"field":"sub"}}},
    {"data":{"values":[{"t":8.28,"v":-0.0009,"rest":"= 0.15 ps"}]},"mark":{"type":"text","fontSize":11.5,"align":"left","baseline":"middle","color":"#3333ff","dx":14.5},"encoding":{"text":{"field":"rest"}}},
    {"data":{"values":[{"t":8.28,"v":-0.00164,"rest":"= 3.5 ps"},{"t":8.28,"v":-0.00248,"rest":"= 90 ps"}]},"mark":{"type":"text","fontSize":11.5,"align":"left","baseline":"middle","color":"#3333ff","dx":18.5},"encoding":{"text":{"field":"rest"}}}
   ]},
 {"width":172,"height":138,
  "encoding":{
   "x":{"field":"t","type":"quantitative","scale":{"domain":[-10,200],"nice":false,"zero":false},"axis":{"values":[0,25,50,75,100,125,150,175,200],"format":"d","title":null,"labelExpr":"datum.value % 50 ? '' : datum.label","tickSize":{"condition":{"test":"datum.value % 50","value":2},"value":4}}},
   "y":{"field":"v","type":"quantitative","scale":{"domain":[-0.0112,0.0073],"nice":false,"zero":false},"axis":{"values":[-0.01,-0.008333,-0.006667,-0.005,-0.003333,-0.001667,0,0.001667,0.003333,0.005,0.006667],"format":".3f","title":"ΔOD (arb. units)","titleFontSize":12,"labelExpr":"abs(datum.value/0.005-round(datum.value/0.005))>0.01 ? '' : datum.label","tickSize":{"condition":{"test":"abs(datum.value/0.005-round(datum.value/0.005))>0.01","value":2},"value":4}}}},
  "layer":[
   {"data":{"values":[{}]},"mark":{"type":"rule","color":"#111","strokeWidth":1},"encoding":{"x":{"datum":-10},"x2":{"datum":200},"y":{"datum":0}}},
   {"data":{"name":"kin"},"mark":{"type":"line","strokeWidth":1.3,"clip":true},
    "encoding":{"color":{"field":"s","type":"nominal","scale":{"domain":["350","400","450","500","550","600","650","700","730"],"range":["#000000","#ff0000","#00ee00","#0000ff","#00ffff","#ff00ff","#ffff00","#808000","#000080"]},"legend":null}}},
   {"data":{"values":[{"t":-8,"v":0.0058}]},"mark":{"type":"text","text":"b","fontWeight":"bold","fontSize":15,"align":"left","baseline":"middle","color":"#000"}}
  ]},
 {"width":65,"height":138,"view":{"stroke":null},"data":{"values":[{}]},"mark":{"type":"text","text":""}},
 {"width":173,"height":138,
   "encoding":{
    "x":{"field":"t","type":"quantitative","scale":{"domain":[-1,15],"nice":false,"zero":false},"axis":{"values":[0,1,2,3,4,5,6,7,8,9,10,11,12,13,14,15],"title":null,"labelExpr":"datum.value % 5 ? '' : datum.label","tickSize":{"condition":{"test":"datum.value % 5","value":2},"value":4}}},
    "y":{"field":"r","type":"quantitative","scale":{"domain":[-0.0012,0.0015],"nice":false,"zero":false},"axis":{"values":[-0.001,-0.0005,0,0.0005,0.001],"format":".3f","title":null,"labelExpr":"abs(datum.value/0.001-round(datum.value/0.001))>0.01 ? '' : datum.label","tickSize":{"condition":{"test":"abs(datum.value/0.001-round(datum.value/0.001))>0.01","value":2},"value":4}}}},
   "layer":[
    {"data":{"values":[{}]},"mark":{"type":"rule","color":"#111","strokeWidth":1},"encoding":{"x":{"datum":-1},"x2":{"datum":15},"y":{"datum":0}}},
    {"data":{"name":"eres"},"mark":{"type":"line","strokeWidth":0.8,"color":"#ff5050","clip":true}},
    {"data":{"name":"eres"},"mark":{"type":"point","filled":true,"size":9,"color":"#ff0000","opacity":1}},
    {"data":{"values":[{"t":-0.6,"r":0.0013}]},"mark":{"type":"text","text":"e","fontWeight":"bold","fontSize":15,"align":"left","baseline":"middle","color":"#000"}}
   ]},
 {"width":47,"height":138,"view":{"stroke":null},"data":{"values":[{}]},"mark":{"type":"text","text":""}},
 {"width":170,"height":138,
   "encoding":{
    "x":{"field":"t","type":"quantitative","scale":{"domain":[-1,15],"nice":false,"zero":false},"axis":{"values":[0,1,2,3,4,5,6,7,8,9,10,11,12,13,14,15],"title":null,"labelExpr":"datum.value % 5 ? '' : datum.label","tickSize":{"condition":{"test":"datum.value % 5","value":2},"value":4}}},
    "y":{"field":"r","type":"quantitative","scale":{"domain":[-0.0015,0.001],"nice":false,"zero":false},"axis":{"values":[-0.001,-0.0005,0,0.0005,0.001],"format":".3f","title":null,"labelExpr":"abs(datum.value/0.001-round(datum.value/0.001))>0.01 ? '' : datum.label","tickSize":{"condition":{"test":"abs(datum.value/0.001-round(datum.value/0.001))>0.01","value":2},"value":4}}}},
   "layer":[
    {"data":{"values":[{}]},"mark":{"type":"rule","color":"#111","strokeWidth":1},"encoding":{"x":{"datum":-1},"x2":{"datum":15},"y":{"datum":0}}},
    {"data":{"name":"hres"},"mark":{"type":"line","strokeWidth":0.8,"color":"#ff5050","clip":true}},
    {"data":{"name":"hres"},"transform":[{"filter":"datum.t > -0.85"}],"mark":{"type":"point","filled":true,"size":9,"color":"#ff0000","opacity":1}},
    {"data":{"values":[{"t":-0.55,"r":0.0008}]},"mark":{"type":"text","text":"h","fontWeight":"bold","fontSize":15,"align":"left","baseline":"middle","color":"#000"}}
   ]},
 {"width":172,"height":138,
  "encoding":{
   "x":{"field":"t","type":"quantitative","scale":{"domain":[-0.2,5],"nice":false,"zero":false},"axis":{"values":[0,0.5,1,1.5,2,2.5,3,3.5,4,4.5,5],"format":"d","title":"Delay Time (ps)","labelExpr":"datum.value % 1 ? '' : datum.label","tickSize":{"condition":{"test":"datum.value % 1","value":2},"value":4}}},
   "y":{"field":"v","type":"quantitative","scale":{"domain":[-0.0111,0.0071],"nice":false,"zero":false},"axis":{"values":[-0.01,-0.008333,-0.006667,-0.005,-0.003333,-0.001667,0,0.001667,0.003333,0.005,0.006667],"format":".3f","title":null,"labelExpr":"abs(datum.value/0.005-round(datum.value/0.005))>0.01 ? '' : datum.label","tickSize":{"condition":{"test":"abs(datum.value/0.005-round(datum.value/0.005))>0.01","value":2},"value":4}}}},
  "layer":[
   {"data":{"values":[{}]},"mark":{"type":"rule","color":"#555","strokeWidth":1.5},"encoding":{"x":{"datum":-0.2},"x2":{"datum":5},"y":{"datum":0}}},
   {"data":{"name":"kin"},"mark":{"type":"line","strokeWidth":2,"clip":true},
    "encoding":{"color":{"field":"s","type":"nominal","scale":{"domain":["350","400","450","500","550","600","650","700","730"],"range":["#000000","#ff0000","#00ee00","#0000ff","#00ffff","#ff00ff","#ffff00","#808000","#000080"]},"legend":null}}},
   {"data":{"values":[{"t":-0.15,"v":0.0055}]},"mark":{"type":"text","text":"c","fontWeight":"bold","fontSize":15,"align":"left","baseline":"middle","color":"#000"}}
  ]},
 {"width":65,"height":138,"view":{"stroke":null},"data":{"values":[{}]},"mark":{"type":"text","text":""}},
 {"width":173,"height":138,
   "encoding":{
    "x":{"field":"f","type":"quantitative","scale":{"domain":[-0.1,5],"nice":false,"zero":false},"axis":{"values":[0,0.5,1,1.5,2,2.5,3,3.5,4,4.5,5],"format":"d","title":"Frequency (THz)","labelExpr":"datum.value % 1 ? '' : datum.label","tickSize":{"condition":{"test":"datum.value % 1","value":2},"value":4}}},
    "y":{"field":"a","type":"quantitative","scale":{"domain":[0,0.045],"nice":false,"zero":false},"axis":{"values":[0,0.01,0.02,0.03,0.04],"format":".2f","title":"Amplitude (arb. units)","titleFontSize":12,"labelExpr":"abs(datum.value/0.02-round(datum.value/0.02))>0.01 ? '' : datum.label","tickSize":{"condition":{"test":"abs(datum.value/0.02-round(datum.value/0.02))>0.01","value":2},"value":4}}}},
   "layer":[
    {"data":{"name":"fft"},"mark":{"type":"line","strokeWidth":1,"color":"#4040ff"}},
    {"data":{"name":"fft"},"mark":{"type":"point","filled":true,"size":10,"color":"#2020ff","opacity":1}},
    {"data":{"values":[{"f":0.01,"a":0.0415}]},"mark":{"type":"text","text":"f","fontWeight":"bold","fontSize":15,"align":"left","baseline":"middle","color":"#000"}},
    {"data":{"values":[{"f":0.36,"a":0.0402}]},"mark":{"type":"text","text":"0.155 THz","fontSize":11,"align":"left","baseline":"middle","color":"#222"}},
    {"data":{"values":[{"f":2.26,"a":0.0262}]},"mark":{"type":"text","text":"1.9 THz","fontSize":11,"align":"center","baseline":"middle","color":"#222"}},
    {"data":{"values":[{"f":4.82,"a":0.0408}]},"mark":{"type":"text","text":"FFT","fontSize":12,"fontWeight":"bold","align":"right","baseline":"middle","color":"#111"}},
    {"data":{"values":[{"f":0.215,"a":0.038,"a2":0.0338},{"f":1.92,"a":0.0212,"a2":0.0168}]},"mark":{"type":"rule","color":"#222","strokeWidth":1},"encoding":{"y2":{"field":"a2"}}},
    {"data":{"values":[{"f":0.215,"a":0.0338},{"f":1.92,"a":0.0168}]},"mark":{"type":"point","shape":"triangle-down","filled":true,"size":16,"color":"#222","opacity":1}}
   ]},
 {"width":47,"height":138,"view":{"stroke":null},"data":{"values":[{}]},"mark":{"type":"text","text":""}},
 {"width":170,"height":138,
   "encoding":{
    "x":{"field":"f","type":"quantitative","scale":{"domain":[-0.1,5],"nice":false,"zero":false},"axis":{"values":[0,0.5,1,1.5,2,2.5,3,3.5,4,4.5,5],"format":"d","title":"Frequency (THz)","labelExpr":"datum.value % 1 ? '' : datum.label","tickSize":{"condition":{"test":"datum.value % 1","value":2},"value":4}}},
    "y":{"field":"b","type":"quantitative","scale":{"domain":[0,0.03],"nice":false,"zero":false},"axis":{"values":[0,0.005,0.01,0.015,0.02,0.025,0.03],"format":".2f","title":"Amplitude (arb. units)","titleFontSize":12,"labelExpr":"abs(datum.value/0.01-round(datum.value/0.01))>0.01 ? '' : datum.label","tickSize":{"condition":{"test":"abs(datum.value/0.01-round(datum.value/0.01))>0.01","value":2},"value":4}}}},
   "layer":[
    {"data":{"name":"fft"},"mark":{"type":"line","strokeWidth":1,"color":"#4040ff"}},
    {"data":{"name":"fft"},"mark":{"type":"point","filled":true,"size":10,"color":"#2020ff","opacity":1}},
    {"data":{"values":[{"f":0.12,"b":0.028}]},"mark":{"type":"text","text":"i","fontWeight":"bold","fontSize":15,"align":"left","baseline":"middle","color":"#000"}},
    {"data":{"values":[{"f":0.51,"b":0.0238}]},"mark":{"type":"text","text":"0.150 THz","fontSize":11,"align":"left","baseline":"middle","color":"#222"}},
    {"data":{"values":[{"f":4.8,"b":0.0271}]},"mark":{"type":"text","text":"FFT","fontSize":12,"fontWeight":"bold","align":"right","baseline":"middle","color":"#111"}},
    {"data":{"values":[{"f":0.167,"b":0.0251,"b2":0.0218}]},"mark":{"type":"rule","color":"#222","strokeWidth":1},"encoding":{"y2":{"field":"b2"}}},
    {"data":{"values":[{"f":0.167,"b":0.0218}]},"mark":{"type":"point","shape":"triangle-down","filled":true,"size":16,"color":"#222","opacity":1}}
   ]}
]
}
